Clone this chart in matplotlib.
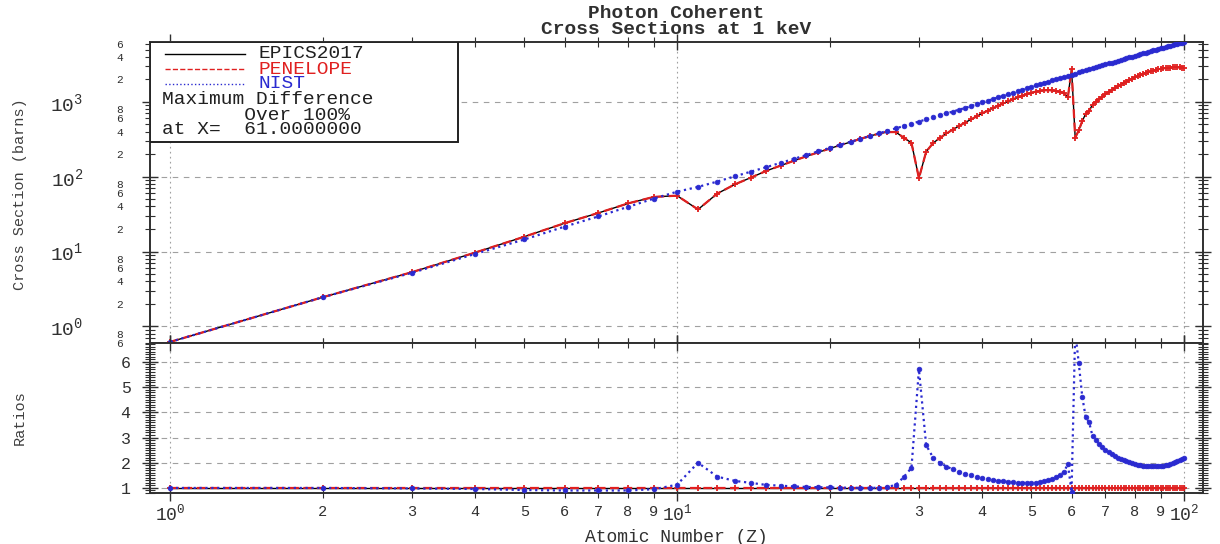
import numpy as np
import matplotlib
matplotlib.use("Agg")
import matplotlib.pyplot as plt
from matplotlib.ticker import LogLocator, FuncFormatter, MultipleLocator, FixedLocator
from matplotlib.lines import Line2D
from matplotlib.patches import Rectangle

plt.rcParams['font.family'] = ['Liberation Mono', 'DejaVu Sans Mono']
plt.rcParams['mathtext.fontset'] = 'custom'
plt.rcParams['mathtext.rm'] = 'Liberation Mono'
plt.rcParams['mathtext.it'] = 'Liberation Mono'
plt.rcParams['mathtext.bf'] = 'Liberation Mono:bold'

# ---------------- data ----------------
Z = list(range(1, 101))

nist = [0.62, 2.45, 5.2, 9.3, 14.5, 21.5, 29.5, 39.5, 51, 63,
        73, 86, 101, 117, 134, 153, 173, 195, 218, 242,
        267, 293, 320, 349, 379, 410, 442, 475, 510, 545,
        582, 620, 659, 700, 742, 785, 829, 874, 925, 985,
        1035, 1090, 1145, 1200, 1260, 1320, 1385, 1450, 1520, 1590,
        1655, 1720, 1790, 1860, 1930, 2000, 2075, 2150, 2230, 2310,
        2390, 2470, 2555, 2640, 2725, 2810, 2900, 2990, 3080, 3170,
        3260, 3350, 3445, 3540, 3635, 3730, 3830, 3930, 4030, 4130,
        4230, 4330, 4435, 4540, 4645, 4750, 4860, 4970, 5080, 5190,
        5290, 5390, 5500, 5610, 5730, 5850, 5950, 6050, 6150, 6250]

epics = [0.62, 2.45, 5.3, 9.7, 15.8, 23.9, 32.8, 43.9, 53.7, 55.8,
         36.5, 59.3, 78.9, 97.5, 119.6, 140.4, 163.2, 187.5, 211.7, 237.3,
         264.4, 290.1, 320, 349, 375.2, 394.2, 394.6, 332.2, 283.3, 95.6,
         215.6, 281.8, 329.5, 378.4, 426.4, 475.8, 528, 582.7, 638, 703.6,
         761, 825.8, 887.6, 952.4, 1016, 1082, 1145, 1208, 1267, 1325,
         1368, 1398, 1421, 1431, 1419, 1399, 1365, 1303, 1144, 2718,
         332, 415, 555, 695, 757, 921, 1000, 1087, 1176, 1268,
         1347, 1432, 1524, 1609, 1699, 1785, 1868, 1955, 2035, 2118,
         2203, 2279, 2359, 2428, 2497, 2554, 2613, 2672, 2717, 2761,
         2799, 2822, 2850, 2862, 2879, 2896, 2888, 2881, 2860, 2841]

penelope = list(epics)  # PENELOPE coincides with EPICS2017

series_labels = ["EPICS2017", "PENELOPE", "NIST"]
title_lines = ["Photon Coherent", "Cross Sections at 1 keV"]
note_lines = ["Maximum Difference", "       Over 100%", "at X=  61.0000000"]
xlabel = "Atomic Number (Z)"
ylabel_top = "Cross Section (barns)"
ylabel_bot = "Ratios"

RED = '#e02020'
BLUE = '#2a2ad0'

Zarr = np.array(Z)
e = np.array(epics)
r_pen = np.array(penelope) / e
r_nist = np.array(nist) / e
r_epics = e / e

# ---------------- figure ----------------
W, H = 1220, 544
fig = plt.figure(figsize=(W / 100, H / 100), dpi=100)
L, R = 150, 1203
ax1 = fig.add_axes([L / W, 1 - 343 / H, (R - L) / W, (343 - 42) / H])
ax2 = fig.add_axes([L / W, 1 - 493 / H, (R - L) / W, (493 - 343) / H], sharex=ax1)

# top panel
ax1.plot(Zarr, e, '-', color='black', lw=1.0, zorder=3)
ax1.plot(Zarr, penelope, '--', color=RED, lw=1.6, marker='+', ms=4.5, mew=1.3,
         dashes=(4, 2), zorder=4)
ax1.plot(Zarr, nist, ':', color=BLUE, lw=1.6, marker='o', ms=3.4, mew=0.5,
         zorder=5)
ax1.set_xscale('log')
ax1.set_yscale('log')
ax1.set_xlim(0.913, 109)
ax1.set_ylim(0.6, 6300)

# bottom panel
ax2.plot(Zarr, r_epics, '-', color='black', lw=1.0, zorder=3)
ax2.plot(Zarr, r_pen, '--', color=RED, lw=1.6, marker='+', ms=4.5, mew=1.3,
         dashes=(4, 2), zorder=4)
ax2.plot(Zarr, r_nist, ':', color=BLUE, lw=1.6, marker='o', ms=3.4, mew=0.5,
         zorder=5)
ax2.set_ylim(0.8, 6.75)

grid_kw = dict(color='#a0a0a0', lw=0.8)
for ax in (ax1, ax2):
    ax.grid(True, which='major', axis='y', linestyle=(0, (5, 5)), **grid_kw)
    ax.grid(True, which='major', axis='x', linestyle=(0, (1.5, 3)), **grid_kw)
    for s in ax.spines.values():
        s.set_linewidth(1.4)
        s.set_color('#303030')
    ax.tick_params(which='both', direction='inout', top=True, right=True,
                   colors='#303030')
    ax.tick_params(which='major', length=12, width=1.0)
    ax.tick_params(which='minor', length=7, width=0.8)

def mant(v, pos=None):
    m = v / 10 ** np.floor(np.log10(v) + 1e-9)
    return str(int(round(m)))

def mant_even(v, pos=None):
    m = int(round(v / 10 ** np.floor(np.log10(v) + 1e-9)))
    return str(m) if m in (2, 4, 6, 8) else ''

def decade(v, pos=None):
    return r'$10^{%d}$' % int(round(np.log10(v)))

# x axis
ax1.xaxis.set_major_locator(LogLocator(base=10, numticks=10))
ax1.xaxis.set_minor_locator(LogLocator(base=10, subs=range(2, 10), numticks=10))
ax1.tick_params(axis='x', which='both', labelbottom=False)
ax2.xaxis.set_major_formatter(FuncFormatter(decade))
ax2.xaxis.set_minor_formatter(FuncFormatter(mant))
ax2.tick_params(axis='x', which='major', labelsize=13, pad=2)
ax2.tick_params(axis='x', which='minor', labelsize=11, pad=5)

# y axis top
ax1.yaxis.set_major_locator(LogLocator(base=10, numticks=10))
ax1.yaxis.set_minor_locator(LogLocator(base=10, subs=range(2, 10), numticks=10))
ax1.yaxis.set_major_formatter(FuncFormatter(decade))
ax1.yaxis.set_minor_formatter(FuncFormatter(mant_even))
ax1.tick_params(axis='y', which='major', labelsize=14, pad=42)
ax1.tick_params(axis='y', which='minor', labelsize=8, pad=16)

# y axis bottom
ax2.yaxis.set_major_locator(FixedLocator([1, 2, 3, 4, 5, 6]))
ax2.yaxis.set_minor_locator(MultipleLocator(0.1))
ax2.tick_params(axis='y', which='major', labelsize=12, pad=8)

# labels
fig.text(20 / W, 1 - 194 / H, ylabel_top, rotation=90, ha='center', va='center',
         fontsize=11, color='#404040')
fig.text(20 / W, 1 - 418 / H, ylabel_bot, rotation=90, ha='center', va='center',
         fontsize=11, color='#404040')
fig.text(676 / W, 1 - 537 / H, xlabel, ha='center', va='center', fontsize=13,
         color='#303030')
fig.text(676 / W, 1 - 14 / H, title_lines[0], ha='center', va='center',
         fontsize=14, fontweight='bold', color='#303030')
fig.text(676 / W, 1 - 30 / H, title_lines[1], ha='center', va='center',
         fontsize=14, fontweight='bold', color='#303030')

# legend box (manual, like the original plotting package)
axw, axh = R - L, 343 - 42
def fx(px):
    return (px - L) / axw
def fy(py):
    return (343 - py) / axh

box = Rectangle((0, fy(142)), fx(458), 1 - fy(142), transform=ax1.transAxes,
                facecolor='white', edgecolor='#202020', lw=1.4, zorder=10)
ax1.add_patch(box)
styles = [dict(color='black', ls='-'), dict(color=RED, ls='--'), dict(color=BLUE, ls=':')]
text_colors = ['#202020', RED, BLUE]
rows = [54, 69, 84]
for lab, st, tc, py in zip(series_labels, styles, text_colors, rows):
    ax1.add_line(Line2D([fx(165), fx(245)], [fy(py), fy(py)], transform=ax1.transAxes,
                        lw=1.0, zorder=11, **st))
    ax1.text(fx(258), fy(py), lab, transform=ax1.transAxes, ha='left', va='center',
             fontsize=14, color=tc, zorder=11)
for txt, py in zip(note_lines, [100, 115, 130]):
    ax1.text(fx(162), fy(py), txt, transform=ax1.transAxes, ha='left', va='center',
             fontsize=14, color='#202020', zorder=11)

fig.savefig('out.png', dpi=100, facecolor='white')
